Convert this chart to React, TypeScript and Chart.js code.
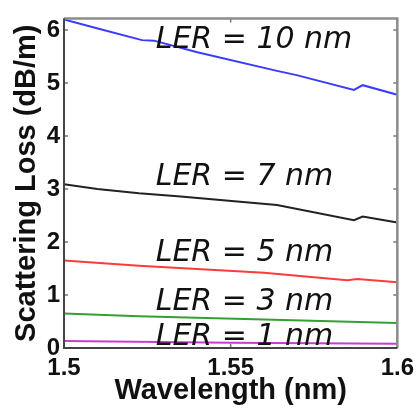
import React, { useEffect, useRef } from "react";
import { Chart, registerables } from "chart.js";

Chart.register(...registerables);

const xTicks = [1.5, 1.55, 1.6];
const yTicks = [0, 1, 2, 3, 4, 5, 6];

const seriesNames = ["LER = 10 nm", "LER = 7 nm", "LER = 5 nm", "LER = 3 nm", "LER = 1 nm"];
const seriesColors = ["#3b3bff", "#222222", "#ff3b3b", "#33a033", "#c83cd0"];

const wl10 = [1.5, 1.5107, 1.5234, 1.527, 1.54, 1.5639, 1.5698, 1.587, 1.5896, 1.6];
const loss10 = [6.2, 6.02, 5.81, 5.8, 5.58, 5.23, 5.15, 4.87, 4.96, 4.78];

const wl7 = [1.5, 1.51, 1.5225, 1.535, 1.5639, 1.587, 1.5896, 1.6];
const loss7 = [3.09, 3.0, 2.92, 2.86, 2.7, 2.41, 2.48, 2.37];

const wl5 = [1.5, 1.5225, 1.56, 1.585, 1.588, 1.6];
const loss5 = [1.65, 1.55, 1.42, 1.28, 1.3, 1.24];

const wl3 = [1.5, 1.5225, 1.56, 1.6];
const loss3 = [0.65, 0.6, 0.54, 0.47];

const wl1 = [1.5, 1.55, 1.6];
const loss1 = [0.13, 0.1, 0.08];

const labelX = 1.5275;
const labelY = [5.82, 3.24, 1.81, 0.88, 0.22];

const toPts = (xs: number[], ys: number[]) => xs.map((x, i) => ({ x, y: ys[i] }));

const framePlugin = {
  id: "frameAndLabels",
  afterDatasetsDraw(chart: any) {
    const { ctx, chartArea: a, scales } = chart;
    const xs = scales.x;
    const ys = scales.y;
    ctx.save();
    // labels
    ctx.font = "italic 30px 'DejaVu Sans'";
    ctx.fillStyle = "#111";
    ctx.textBaseline = "middle";
    ctx.textAlign = "left";
    seriesNames.forEach((n, i) => {
      ctx.fillText(n, xs.getPixelForValue(labelX), ys.getPixelForValue(labelY[i]) + 1);
    });
    // inward ticks
    ctx.strokeStyle = "#777";
    ctx.lineWidth = 1.5;
    const tl = 4;
    xTicks.forEach((v) => {
      const px = xs.getPixelForValue(v);
      ctx.beginPath();
      ctx.moveTo(px, a.bottom);
      ctx.lineTo(px, a.bottom - tl);
      ctx.moveTo(px, a.top);
      ctx.lineTo(px, a.top + tl);
      ctx.stroke();
    });
    yTicks.forEach((v) => {
      const py = ys.getPixelForValue(v);
      ctx.beginPath();
      ctx.moveTo(a.left, py);
      ctx.lineTo(a.left + tl, py);
      ctx.moveTo(a.right, py);
      ctx.lineTo(a.right - tl, py);
      ctx.stroke();
    });
    // frame
    ctx.lineWidth = 2.5;
    ctx.strokeStyle = "#8c8c8c";
    ctx.beginPath();
    ctx.moveTo(a.left, a.top);
    ctx.lineTo(a.right, a.top);
    ctx.lineTo(a.right, a.bottom);
    ctx.stroke();
    ctx.lineWidth = 2;
    ctx.strokeStyle = "#444";
    ctx.beginPath();
    ctx.moveTo(a.left, a.top);
    ctx.lineTo(a.left, a.bottom);
    ctx.lineTo(a.right, a.bottom);
    ctx.stroke();
    ctx.restore();
  },
};

export default function App() {
  const ref = useRef<HTMLCanvasElement | null>(null);
  useEffect(() => {
    if (!ref.current) return;
    const data = [
      toPts(wl10, loss10),
      toPts(wl7, loss7),
      toPts(wl5, loss5),
      toPts(wl3, loss3),
      toPts(wl1, loss1),
    ];
    const chart = new Chart(ref.current, {
      type: "line",
      data: {
        datasets: data.map((d, i) => ({
          label: seriesNames[i],
          data: d,
          borderColor: seriesColors[i],
          borderWidth: 2,
          pointRadius: 0,
          tension: 0,
          fill: false,
        })),
      },
      options: {
        animation: false,
        responsive: false,
        maintainAspectRatio: false,
        layout: { padding: { top: 11, right: 18, left: 0, bottom: 0 } },
        plugins: { legend: { display: false }, tooltip: { enabled: false } },
        scales: {
          x: {
            type: "linear",
            min: 1.5,
            max: 1.6,
            afterBuildTicks: (s: any) => {
              s.ticks = xTicks.map((v) => ({ value: v }));
            },
            afterFit: (s: any) => {
              s.height = 62;
            },
            grid: { display: false, drawTicks: false },
            border: { display: false },
            ticks: {
              padding: 6,
              maxRotation: 0,
              color: "#111",
              font: { family: "'Liberation Sans', Arial", size: 24, weight: "bold" },
              callback: (v: any) => String(Number(v)),
            },
            title: {
              display: true,
              text: "Wavelength (nm)",
              color: "#111",
              padding: { top: 0, bottom: 2 },
              font: { family: "'Liberation Sans', Arial", size: 29, weight: "bold" },
            },
          },
          y: {
            type: "linear",
            min: 0,
            max: 6.22,
            afterBuildTicks: (s: any) => {
              s.ticks = yTicks.map((v) => ({ value: v }));
            },
            afterFit: (s: any) => {
              s.width = 64;
            },
            grid: { display: false, drawTicks: false },
            border: { display: false },
            ticks: {
              padding: 4,
              color: "#111",
              font: { family: "'Liberation Sans', Arial", size: 24, weight: "bold" },
            },
            title: {
              display: true,
              text: "Scattering Loss (dB/m)",
              color: "#111",
              padding: { top: 10, bottom: 0 },
              font: { family: "'Liberation Sans', Arial", size: 29, weight: "bold" },
            },
          },
        },
      },
      plugins: [framePlugin],
    } as any);
    return () => chart.destroy();
  }, []);
  return (
    <div style={{ position: "absolute", left: 0, top: 0, width: 420, height: 410, background: "#fff" }}>
      <canvas ref={ref} width={420} height={410} />
    </div>
  );
}
